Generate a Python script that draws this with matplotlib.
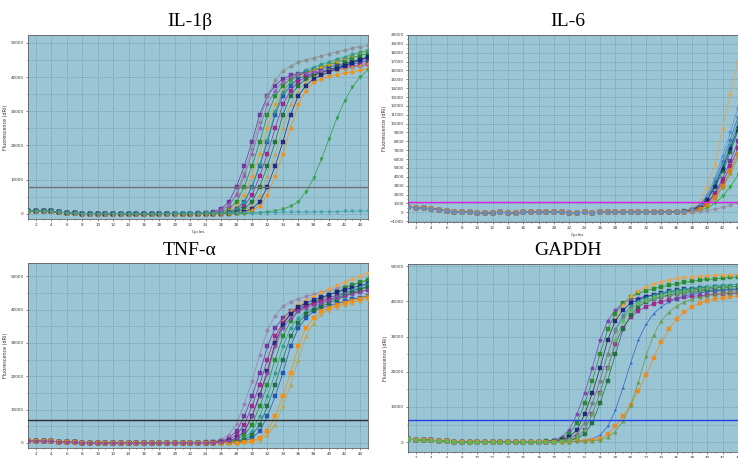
import numpy as np
import matplotlib.pyplot as plt
from matplotlib.ticker import MultipleLocator

# qPCR amplification plots, values in thousands of dRn units
cycles = np.arange(1, 46)

# ---------- IL-1b : cycles 1-19 shared baseline, cycles 20-45 per well
il1b_base = [0.9, 0.8, 0.8, 0.7, 0.5, 0.3, 0.2, 0.1, 0.1, 0.1, 0.0, 0.1, 0.1, 0.0, 0.0, 0.0, 0.0, 0.1, 0.1]
il1b_curves = [
    [0.1, 0.1, 0.1, 0.2, 0.3, 0.6, 1.5, 3.5, 8, 14, 21, 29, 34.5, 37.5, 39.5, 40.5, 41.0, 41.5, 42.0, 42.5, 43.0, 43.5, 44.0, 44.5, 45.0, 45.5],
    [0.1, 0.1, 0.1, 0.1, 0.2, 0.4, 1.1, 2.6, 6, 12, 19, 27, 34.5, 39, 41.8, 43.2, 44.3, 45, 45.6, 46.2, 46.8, 47.4, 47.9, 48.4, 48.9, 49.3],
    [0.1, 0.1, 0.1, 0.1, 0.2, 0.3, 0.6, 1.5, 3.5, 8, 14, 21, 29, 34.5, 37.5, 39.5, 40.5, 41.3, 42.1, 42.9, 43.6, 44.3, 45, 45.7, 46.3, 46.9],
    [0.1, 0.1, 0.1, 0.1, 0.1, 0.2, 0.4, 1.0, 2.4, 5.5, 11, 17.5, 25, 32, 36, 38.7, 40, 41, 42, 43, 43.9, 44.8, 45.7, 46.5, 47.2, 47.9],
    [0.1, 0.1, 0.1, 0.1, 0.1, 0.1, 0.3, 0.6, 1.5, 3.5, 8, 14, 21, 29, 34.5, 37.5, 39.5, 40.5, 41.1, 41.7, 42.3, 42.8, 43.3, 43.8, 44.3, 44.8],
    [0.1, 0.1, 0.1, 0.1, 0.1, 0.1, 0.2, 0.4, 1.0, 2.4, 5.5, 11, 17.5, 25, 32, 36, 38.7, 40, 40.8, 41.3, 41.8, 42.3, 42.8, 43.2, 43.6, 44],
    [0.1, 0.1, 0.1, 0.1, 0.1, 0.1, 0.3, 0.6, 1.5, 3.5, 8, 14.5, 21.5, 30, 35.5, 38.7, 40.8, 42, 42.9, 43.7, 44.5, 45.2, 45.9, 46.6, 47.2, 47.8],
    [0.1, 0.1, 0.1, 0.1, 0.1, 0.1, 0.1, 0.3, 0.6, 1.5, 3.5, 8, 14, 21, 29, 34.5, 37.5, 39.5, 40.5, 41.3, 42.1, 42.9, 43.7, 44.5, 45.2, 45.9],
    [0.1, 0.1, 0.1, 0.1, 0.2, 0.4, 1.0, 2.4, 5.5, 11, 17.5, 25, 32, 36, 38.7, 40, 40.8, 41.2, 41.5, 41.8, 42.1, 42.4, 42.7, 43.0, 43.2, 43.4],
    [0.1, 0.1, 0.1, 0.1, 0.1, 0.1, 0.1, 0.2, 0.4, 1.0, 2.4, 5.5, 11, 17.5, 25, 32, 36, 38.7, 40, 40.8, 41.4, 42, 42.5, 43, 43.5, 44],
    [0.1, 0.1, 0.1, 0.1, 0.1, 0.1, 0.1, 0.1, 0.3, 0.6, 1.5, 3.5, 8, 14, 21, 29, 34.5, 37.5, 39.5, 40.5, 41.5, 42.4, 43.3, 44.2, 45, 45.8],
    [0.1, 0.1, 0.1, 0.1, 0.1, 0.1, 0.1, 0.1, 0.2, 0.4, 1.0, 2.4, 5.5, 11, 17.5, 25, 32, 36, 38.5, 39.5, 40.2, 40.7, 41.2, 41.6, 42, 42.3],
    [0.1, 0.1, 0.1, 0.1, 0.1, 0.1, 0.1, 0.1, 0.1, 0.1, 0.2, 0.3, 0.6, 0.9, 1.4, 2.2, 3.5, 6.5, 10.5, 16, 22, 28, 33, 37, 40, 42],
    [0.2, 0.2, 0.2, 0.2, 0.3, 0.3, 0.3, 0.3, 0.3, 0.4, 0.4, 0.4, 0.4, 0.4, 0.5, 0.5, 0.5, 0.5, 0.5, 0.6, 0.6, 0.6, 0.7, 0.7, 0.8, 0.8],
]
il1b_colors = ['#7030a0', '#8c8c8c', '#228b22', '#f39c12', '#1f4fb4', '#a0208a', '#2a9d8f',
               '#1b6e3a', '#9b59b6', '#c8a040', '#1a237e', '#ff8c00', '#2e9e3e', '#3aa0a8']
il1b_markers = ['s', 'o', 's', 'o', 's', 's', 'o', 's', 'o', '^', 's', 'o', 'v', 'v']
il1b_threshold = 7800

# ---------- IL-6 : cycles 1-29 shared baseline, cycles 30-45 per well
il6_base = [0.6, 0.5, 0.45, 0.4, 0.3, 0.15, 0.05, 0.0, 0.0, -0.05, -0.1, -0.05, 0.0, -0.05, -0.1,
            0.0, 0.0, 0.05, 0.0, 0.0, 0.0, -0.05, -0.05, 0.0, -0.05, 0.0, 0.0, 0.05, 0.0]
il6_curves = [
    [0.0, 0.0, 0.0, 0.0, 0.0, 0.05, 0.1, 0.2, 0.5, 1.2, 2.8, 5.5, 9.5, 13.5, 17.0, 20.0],
    [0.0, 0.0, 0.0, 0.0, 0.0, 0.0, 0.05, 0.1, 0.3, 0.8, 1.8, 3.5, 5.8, 8.2, 10.8, 13.0],
    [0.0, 0.0, 0.0, 0.0, 0.0, 0.0, 0.05, 0.1, 0.3, 0.7, 1.6, 3.2, 5.3, 7.6, 10.2, 12.5],
    [0.0, 0.0, 0.0, 0.0, 0.0, 0.0, 0.0, 0.1, 0.25, 0.6, 1.4, 2.8, 4.6, 6.8, 9.2, 11.5],
    [0.0, 0.0, 0.0, 0.0, 0.0, 0.0, 0.0, 0.05, 0.2, 0.5, 1.1, 2.2, 3.8, 5.8, 8.0, 10.2],
    [0.0, 0.0, 0.0, 0.0, 0.0, 0.0, 0.0, 0.05, 0.15, 0.4, 1.0, 2.0, 3.4, 5.2, 7.2, 9.2],
    [0.0, 0.0, 0.0, 0.0, 0.0, 0.0, 0.05, 0.1, 0.3, 0.7, 1.5, 3.0, 5.0, 7.2, 9.6, 12.0],
    [0.0, 0.0, 0.0, 0.0, 0.0, 0.0, 0.0, 0.05, 0.15, 0.35, 0.8, 1.6, 2.8, 4.4, 6.2, 8.0],
    [0.0, 0.0, 0.0, 0.0, 0.0, 0.0, 0.0, 0.0, 0.1, 0.2, 0.5, 1.0, 1.8, 2.9, 4.2, 5.6],
    [0.0, 0.0, 0.0, 0.0, 0.0, 0.0, 0.0, 0.05, 0.15, 0.35, 0.8, 1.7, 3.0, 4.7, 6.6, 8.5],
    [0.0, 0.0, 0.0, 0.0, 0.0, 0.0, 0.0, 0.0, 0.05, 0.1, 0.2, 0.35, 0.55, 0.8, 1.1, 1.4],
    [0.0, 0.0, 0.0, 0.0, 0.0, 0.0, 0.05, 0.15, 0.4, 0.9, 2.0, 3.9, 6.4, 9.0, 11.8, 14.5],
]
il6_colors = ['#f5a03a', '#3a6fc4', '#2a9d8f', '#1b6e3a', '#7030a0', '#a0208a',
              '#1a237e', '#8a9a30', '#22aa22', '#e67e00', '#9a8aa0', '#5b8fd0']
il6_markers = ['^', 'o', 'o', 's', 's', 's', 'o', '^', 'v', 's', 'o', 'o']
il6_threshold = 1200

# ---------- TNF-a : cycles 1-19 shared baseline, cycles 20-45 per well
tnf_base = [0.6, 0.6, 0.5, 0.5, 0.4, 0.3, 0.2, 0.1, 0.1, 0.0, 0.0, 0.1, 0.0, 0.0, 0.1, 0.0, 0.0, 0.1, 0.1]
tnf_curves = [
    [0.1, 0.1, 0.1, 0.1, 0.2, 0.3, 0.6, 1.5, 3.5, 8, 14, 21, 29, 34.5, 37.5, 39.5, 40.5, 41.3, 42.1, 42.9, 43.6, 44.3, 45, 45.7, 46.3, 46.9],
    [0.1, 0.1, 0.1, 0.1, 0.2, 0.4, 1.1, 2.5, 5.8, 11.7, 18.5, 26.5, 34, 38.2, 41, 42.4, 43.3, 44, 44.6, 45.2, 45.8, 46.4, 47, 47.6, 48.2, 48.8],
    [0.1, 0.1, 0.1, 0.1, 0.1, 0.1, 0.3, 0.6, 1.5, 3.6, 8.3, 14.5, 22, 30.5, 36.5, 39.5, 41.8, 43, 44.1, 45.2, 46.3, 47.3, 48.3, 49.2, 50.1, 51],
    [0.1, 0.1, 0.1, 0.1, 0.1, 0.1, 0.2, 0.4, 1.0, 2.4, 5.5, 11, 17.5, 25, 32, 36.5, 39.5, 41, 42.2, 43.3, 44.4, 45.4, 46.4, 47.3, 48.2, 49],
    [0.1, 0.1, 0.1, 0.1, 0.1, 0.2, 0.4, 1.0, 2.4, 5.5, 11, 17.5, 25, 32, 36, 38.7, 40, 41, 41.8, 42.5, 43.1, 43.7, 44.3, 44.9, 45.4, 45.9],
    [0.1, 0.1, 0.1, 0.1, 0.1, 0.1, 0.3, 0.6, 1.5, 3.5, 8, 14.5, 21.5, 30, 35.5, 38.7, 40.8, 42, 42.9, 43.7, 44.5, 45.2, 45.9, 46.6, 47.2, 47.8],
    [0.1, 0.1, 0.1, 0.1, 0.1, 0.1, 0.1, 0.3, 0.6, 1.5, 3.5, 8, 14, 21, 29, 34.5, 37.5, 39.5, 40.5, 41.6, 42.7, 43.8, 44.8, 45.8, 46.8, 47.7],
    [0.1, 0.1, 0.1, 0.1, 0.1, 0.1, 0.1, 0.1, 0.3, 0.6, 1.5, 3.5, 8, 14, 21, 29, 34.5, 37.5, 39.5, 40.5, 41.2, 41.9, 42.5, 43.1, 43.6, 44.1],
    [0.1, 0.1, 0.1, 0.1, 0.1, 0.1, 0.1, 0.2, 0.4, 1.0, 2.4, 5.5, 11, 17.5, 25, 32, 36, 38.7, 40, 41, 42, 43, 44, 45, 46, 46.8],
    [0.1, 0.1, 0.1, 0.1, 0.1, 0.1, 0.1, 0.1, 0.1, 0.2, 0.4, 1.0, 2.4, 5.5, 11, 17.5, 25, 32, 36, 38.7, 40, 40.8, 41.5, 42.1, 42.6, 43.1],
    [0.1, 0.1, 0.1, 0.1, 0.1, 0.1, 0.1, 0.1, 0.1, 0.3, 0.6, 1.5, 3.5, 8, 14, 21, 29, 34.5, 37.5, 39.5, 40.5, 41.3, 42, 42.7, 43.3, 43.9],
    [0.1, 0.1, 0.1, 0.1, 0.1, 0.1, 0.3, 0.6, 1.5, 3.5, 8, 14, 21, 29, 34.5, 37.5, 39.5, 40.5, 41.3, 42, 42.7, 43.4, 44.1, 44.8, 45.4, 46],
]
tnf_colors = ['#7030a0', '#9a7fb0', '#f5a03a', '#228b22', '#a0208a', '#1a237e',
              '#2a9d8f', '#1f4fb4', '#1b6e3a', '#c8a040', '#ff8c00', '#8e44ad']
tnf_markers = ['s', 'o', 'o', 's', 's', 's', 'o', 's', 's', '^', 's', 'o']
tnf_threshold = 6900

# ---------- GAPDH : cycles 1-14 shared baseline, cycles 15-45 per well
gapdh_base = [0.8, 0.7, 0.6, 0.5, 0.4, 0.3, 0.1, 0.1, 0.0, 0.0, 0.0, 0.1, 0.0, 0.0]
gapdh_curves = [
    [0.1, 0.1, 0.1, 0.1, 0.3, 0.6, 1.5, 3.5, 8, 14, 21, 29, 34.5, 37.5, 39.5, 40.5, 41, 41.4, 41.8, 42.1, 42.4, 42.7, 43, 43.2, 43.4, 43.6, 43.8, 44, 44.1, 44.2, 44.3],
    [0.1, 0.1, 0.1, 0.1, 0.2, 0.4, 1.0, 2.4, 5.5, 11, 17.5, 25, 32, 36.5, 39.5, 41.2, 42.3, 43, 43.6, 44.1, 44.6, 45, 45.4, 45.7, 46, 46.2, 46.4, 46.6, 46.8, 46.9, 47],
    [0.1, 0.1, 0.1, 0.1, 0.1, 0.3, 0.6, 1.5, 3.5, 8, 14, 21, 29, 35, 39, 41.5, 43, 44.2, 45, 45.6, 46.1, 46.5, 46.8, 47, 47.2, 47.3, 47.4, 47.5, 47.5, 47.6, 47.6],
    [0.1, 0.1, 0.1, 0.1, 0.1, 0.3, 0.6, 1.5, 3.5, 8, 14, 21, 29, 34.5, 37.5, 39.5, 40.5, 41.3, 41.9, 42.4, 42.8, 43.1, 43.4, 43.6, 43.8, 43.9, 44, 44.1, 44.2, 44.3, 44.4],
    [0.1, 0.1, 0.1, 0.1, 0.1, 0.1, 0.3, 0.6, 1.5, 3.5, 8, 14, 21, 28, 32.5, 35.5, 37.3, 38.5, 39.3, 39.9, 40.4, 40.8, 41.1, 41.4, 41.6, 41.8, 42, 42.1, 42.2, 42.3, 42.4],
    [0.1, 0.1, 0.1, 0.1, 0.1, 0.2, 0.4, 1.0, 2.4, 5.5, 11, 17.5, 25, 32, 36, 38.7, 40, 41, 41.7, 42.3, 42.8, 43.2, 43.5, 43.8, 44, 44.2, 44.4, 44.6, 44.7, 44.8, 44.9],
    [0.1, 0.1, 0.1, 0.1, 0.1, 0.1, 0.2, 0.4, 1.0, 2.4, 5.5, 11, 17.5, 25, 32, 36, 38.5, 39.8, 40.7, 41.3, 41.8, 42.2, 42.5, 42.8, 43, 43.1, 43.2, 43.3, 43.4, 43.5, 43.5],
    [0.1, 0.1, 0.1, 0.1, 0.1, 0.2, 0.4, 1.0, 2.4, 5.5, 11, 17.5, 25, 31.5, 35.5, 38, 39.3, 40.1, 40.7, 41.2, 41.6, 41.9, 42.2, 42.4, 42.6, 42.7, 42.8, 42.9, 43, 43, 43.1],
    [0.1, 0.1, 0.1, 0.1, 0.1, 0.1, 0.1, 0.1, 0.2, 0.4, 0.9, 2.0, 4.5, 9, 15.5, 22.5, 29, 33.5, 36.5, 38.5, 39.8, 40.8, 41.5, 42, 42.4, 42.7, 43, 43.2, 43.4, 43.5, 43.6],
    [0.1, 0.1, 0.1, 0.1, 0.1, 0.1, 0.1, 0.1, 0.2, 0.4, 0.6, 1.0, 2.2, 4.5, 7.5, 10.5, 14.5, 19, 24, 28.5, 32, 35, 37, 38.5, 39.5, 40.2, 40.7, 41.0, 41.2, 41.4, 41.5],
    [0.1, 0.1, 0.1, 0.1, 0.1, 0.1, 0.1, 0.1, 0.2, 0.3, 0.4, 0.6, 1.4, 3, 6, 10.5, 17, 24.5, 30.5, 34.5, 37, 38.7, 39.8, 40.6, 41.2, 41.6, 42, 42.3, 42.5, 42.7, 42.8],
    [0.1, 0.1, 0.1, 0.1, 0.1, 0.1, 0.3, 0.6, 1.5, 3.5, 8, 14, 21, 29, 34.5, 37.5, 39.5, 40.5, 41.2, 41.8, 42.3, 42.7, 43, 43.3, 43.6, 43.8, 44, 44.1, 44.2, 44.3, 44.4],
]
gapdh_colors = ['#7d3cb5', '#228b22', '#f5a03a', '#1a237e', '#a0208a', '#2a9d8f',
                '#1b6e3a', '#808080', '#2f5fd0', '#f08a1c', '#6a9a40', '#5cb85c']
gapdh_markers = ['o', 's', 'o', 's', 's', 'o', 's', 'o', '.', 's', '^', 'o']
gapdh_threshold = 6200

bg = '#99c5d5'
grid_col = '#5f8798'


def draw_panel(ax, base, curves, colors, markers, thr, thr_col, ylim, ymaj, ymin,
               grid_minor_y=True, show_xlabel=True):
    ax.set_facecolor(bg)
    for vals, col, mk in zip(curves, colors, markers):
        y = np.array(base + vals) * 1000
        ax.plot(cycles, y, color=col, lw=0.55, marker=mk, ms=2.5, mew=0.3,
                mec=col, alpha=0.9, zorder=3)
    ax.axhline(thr, color=thr_col, lw=1.0, zorder=4)
    ax.set_xlim(0.96, 45.04)
    ax.set_ylim(*ylim)
    ax.xaxis.set_major_locator(MultipleLocator(2))
    ax.xaxis.set_minor_locator(MultipleLocator(1))
    ax.yaxis.set_major_locator(MultipleLocator(ymaj))
    ax.yaxis.set_minor_locator(MultipleLocator(ymin))
    ax.grid(which='major', axis='both', ls=':', lw=0.5, color=grid_col, zorder=1)
    if grid_minor_y:
        ax.grid(which='minor', axis='y', ls=':', lw=0.45, color=grid_col, zorder=1)
    ax.set_axisbelow(True)
    ax.tick_params(which='both', labelsize=3, length=1.5, width=0.4, colors='#333333', pad=1.5)
    ax.tick_params(which='minor', length=1)
    ax.xaxis.set_major_formatter(plt.FuncFormatter(lambda v, p: '%d' % v if 2 <= v <= 44 else ''))
    for s in ax.spines.values():
        s.set_color('#606060')
        s.set_linewidth(0.6)
    if show_xlabel:
        ax.set_xlabel('Cycles', fontsize=3, labelpad=2, color='#333333')
    ax.set_ylabel('Fluorescence (dRi)', fontsize=3.5, labelpad=2, color='#333333')


fig = plt.figure(figsize=(7.38, 4.58), dpi=100)
W, H = 738.0, 458.0

ax1 = fig.add_axes([28 / W, 1 - 219 / H, 340 / W, 184 / H])
draw_panel(ax1, il1b_base, il1b_curves, il1b_colors, il1b_markers,
           il1b_threshold, '#707070', (-1500, 52300), 10000, 5000)

ax2 = fig.add_axes([408 / W, 1 - 222 / H, 338 / W, 187 / H])
draw_panel(ax2, il6_base, il6_curves, il6_colors, il6_markers,
           il6_threshold, '#e020e0', (-1100, 20000), 1000, 500, grid_minor_y=False)

ax3 = fig.add_axes([28 / W, 1 - 448 / H, 340 / W, 185 / H])
draw_panel(ax3, tnf_base, tnf_curves, tnf_colors, tnf_markers,
           tnf_threshold, '#303030', (-1500, 54000), 10000, 5000, show_xlabel=False)

ax4 = fig.add_axes([408 / W, 1 - 452 / H, 338 / W, 188 / H])
draw_panel(ax4, gapdh_base, gapdh_curves, gapdh_colors, gapdh_markers,
           gapdh_threshold, '#2040e0', (-2800, 50600), 10000, 5000, show_xlabel=False)

title_kw = dict(fontsize=14, family='Liberation Serif', ha='center', va='center')
fig.text(190 / W, 1 - 21 / H, 'IL-1β', **title_kw)
fig.text(568 / W, 1 - 21 / H, 'IL-6', **title_kw)
fig.text(190 / W, 1 - 250 / H, 'TNF-α', **title_kw)
fig.text(568 / W, 1 - 250 / H, 'GAPDH', **title_kw)

fig.savefig('out.png', dpi=100)
